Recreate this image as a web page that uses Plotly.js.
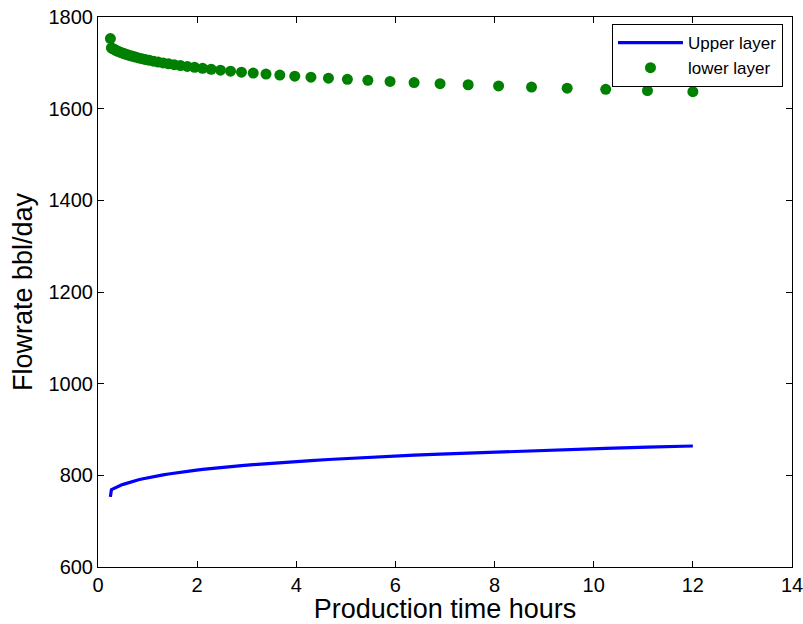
<!DOCTYPE html>
<html>
<head>
<meta charset="utf-8">
<script src="https://cdn.plot.ly/plotly-3.0.1.min.js"></script>
<style>html,body{margin:0;padding:0;background:#fff;}#chart{width:803px;height:624px;}</style>
</head>
<body>
<div id="chart"></div>
<script>
const timeHours = [0.25, 0.2706, 0.2928, 0.3169, 0.3429, 0.3711, 0.4016, 0.4346, 0.4704, 0.5090,
  0.5509, 0.5961, 0.6451, 0.6982, 0.7556, 0.8177, 0.8849, 0.9577, 1.0364, 1.1216,
  1.2138, 1.3135, 1.4215, 1.5383, 1.6648, 1.8016, 1.9497, 2.1100, 2.2834, 2.4711,
  2.6742, 2.8940, 3.1319, 3.3893, 3.6679, 3.9694, 4.2957, 4.6488, 5.0309, 5.4444,
  5.8919, 6.3762, 6.9003, 7.4675, 8.0813, 8.7456, 9.4644, 10.2424, 11.0843, 12.0];

const upperLayer = [753, 768.5, 769.9, 771.3, 772.7, 774.2, 775.7, 777.2, 778.8, 780.3,
  781.9, 783.5, 785.2, 786.8, 788.5, 790.3, 792.0, 793.8, 795.6, 797.4,
  799.3, 801.1, 803.0, 805.0, 806.9, 808.9, 810.9, 812.9, 815.0, 817.0,
  819.1, 821.3, 823.4, 825.6, 827.8, 830.1, 832.3, 834.6, 836.9, 839.2,
  841.6, 844.0, 846.4, 848.8, 851.3, 853.8, 856.3, 858.8, 861.4, 864.0];

const lowerLayer = [1753, 1732.5, 1731.1, 1729.7, 1728.3, 1726.8, 1725.3, 1723.8, 1722.2, 1720.7,
  1719.1, 1717.5, 1715.8, 1714.2, 1712.5, 1710.7, 1709.0, 1707.2, 1705.4, 1703.6,
  1701.7, 1699.9, 1698.0, 1696.0, 1694.1, 1692.1, 1690.1, 1688.1, 1686.0, 1684.0,
  1681.9, 1679.7, 1677.6, 1675.4, 1673.2, 1670.9, 1668.7, 1666.4, 1664.1, 1661.8,
  1659.4, 1657.0, 1654.6, 1652.2, 1649.7, 1647.2, 1644.7, 1642.2, 1639.6, 1637.0];

const seriesNames = ["Upper layer", "lower layer"];
const xTicks = [0, 2, 4, 6, 8, 10, 12, 14];
const yTicks = [600, 800, 1000, 1200, 1400, 1600, 1800];

const font = "Liberation Sans, Arial, Helvetica, sans-serif";

const traces = [
  {x: timeHours, y: upperLayer, name: seriesNames[0], type: "scatter", mode: "lines",
   line: {color: "#0000ff", width: 3.2}},
  {x: timeHours, y: lowerLayer, name: seriesNames[1], type: "scatter", mode: "markers",
   marker: {color: "#008000", size: 11}}
];

const axisCommon = {
  showline: true, linecolor: "#000", linewidth: 1, mirror: "ticks",
  ticks: "inside", ticklen: 6, tickcolor: "#000", tickwidth: 1,
  showgrid: false, zeroline: false,
  tickfont: {family: font, size: 20, color: "#000"}
};

const layout = {
  width: 803, height: 624,
  margin: {l: 98, r: 11, t: 17, b: 57},
  paper_bgcolor: "#fff", plot_bgcolor: "#fff",
  showlegend: true,
  xaxis: Object.assign({}, axisCommon, {
    range: [0, 14], tickvals: xTicks, ticktext: xTicks.map(String),
    ticklabeloverflow: "allow",
    title: {text: "Production time hours", font: {family: font, size: 27, color: "#000"}, standoff: 4}
  }),
  yaxis: Object.assign({}, axisCommon, {
    range: [600, 1800], tickvals: yTicks, ticktext: yTicks.map(String),
    title: {text: "Flowrate bbl/day", font: {family: font, size: 27, color: "#000"}, standoff: 8}
  }),
  legend: {
    x: 0.987, y: 0.9873, xanchor: "right", yanchor: "top",
    bgcolor: "#fff", bordercolor: "#000", borderwidth: 1,
    font: {family: font, size: 17, color: "#000"},
    itemwidth: 65,
    tracegroupgap: 0
  }
};

Plotly.newPlot("chart", traces, layout, {displayModeBar: false, staticPlot: true});
</script>
</body>
</html>
